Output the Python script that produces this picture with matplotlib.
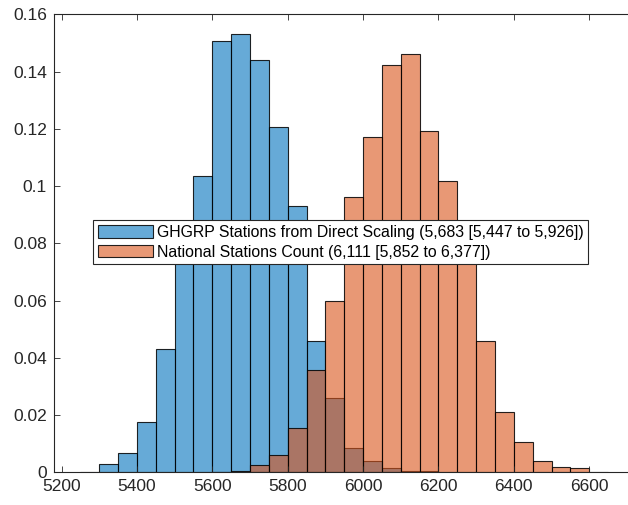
import numpy as np
import matplotlib
matplotlib.use("Agg")
import matplotlib.pyplot as plt

# bin edges (width 50) and probability per bin
ghgrp_edges = list(range(5250, 6200 + 1, 50))
ghgrp_prob = [0.0002, 0.0030, 0.0067, 0.0175, 0.0431, 0.0775, 0.1036, 0.1507,
              0.1532, 0.1441, 0.1207, 0.0929, 0.0459, 0.0260, 0.0084, 0.0038,
              0.0015, 0.0005, 0.0003]

national_edges = list(range(5600, 6650 + 1, 50))
national_prob = [0.0002, 0.0005, 0.0026, 0.0062, 0.0155, 0.0358, 0.0597, 0.0963,
                 0.1171, 0.1424, 0.1460, 0.1192, 0.1019, 0.0730, 0.0458, 0.0212,
                 0.0107, 0.0038, 0.0017, 0.0014, 0.0002]

labels = ["GHGRP Stations from Direct Scaling (5,683 [5,447 to 5,926])",
          "National Stations Count (6,111 [5,852 to 6,377])"]

xticks = [5200, 5400, 5600, 5800, 6000, 6200, 6400, 6600]
yticks = [0, 0.02, 0.04, 0.06, 0.08, 0.1, 0.12, 0.14, 0.16]
ytick_labels = ["0", "0.02", "0.04", "0.06", "0.08", "0.1", "0.12", "0.14", "0.16"]

plt.rcParams['font.family'] = ['Liberation Sans', 'DejaVu Sans']
axis_col = '#262626'

fig = plt.figure(figsize=(6.28, 5.05), dpi=100)
# axes run past the right edge of the figure, as in the reference
ax = fig.add_axes([54 / 628, 32.7 / 505, 610 / 628, 458 / 505])

blue = (0.0, 0.447, 0.741, 0.6)
orange = (0.85, 0.325, 0.098, 0.6)

ax.bar(ghgrp_edges[:-1], ghgrp_prob, width=np.diff(ghgrp_edges), align='edge',
       color=blue, edgecolor=(0, 0, 0, 0.85), linewidth=0.8, label=labels[0])
ax.bar(national_edges[:-1], national_prob, width=np.diff(national_edges), align='edge',
       color=orange, edgecolor=(0, 0, 0, 0.85), linewidth=0.8, label=labels[1])

ax.set_xlim(5180, 5180 + 610 / 0.3769)
ax.set_ylim(0, 0.16)
ax.set_xticks(xticks)
ax.set_yticks(yticks)
ax.set_yticklabels(ytick_labels)

ax.tick_params(direction='in', top=True, right=True, length=4, width=0.6,
               colors=axis_col, labelsize=12.5, pad=5)
for s in ax.spines.values():
    s.set_color(axis_col)
    s.set_linewidth(0.8)

leg = ax.legend(loc='upper left', bbox_to_anchor=(93.3 / 628, 1 - 220 / 505),
                bbox_transform=fig.transFigure, borderaxespad=0, fontsize=11.45,
                handlelength=3.45, handleheight=0.85, handletextpad=0.25,
                labelspacing=0.3, borderpad=0.3, fancybox=False, framealpha=1)
leg.get_frame().set_edgecolor(axis_col)
leg.get_frame().set_linewidth(0.8)
for t in leg.get_texts():
    t.set_color('black')

fig.savefig("out.png", dpi=100)
